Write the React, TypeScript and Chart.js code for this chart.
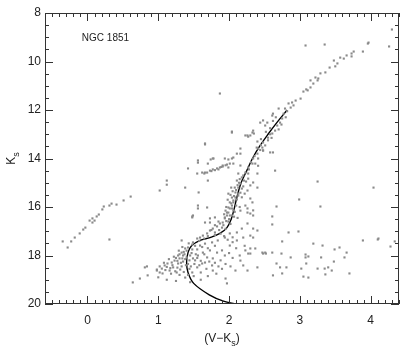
import React, { useEffect, useRef } from "react";
import { Chart, registerables } from "chart.js";

Chart.register(...registerables);

const X_MIN = -0.6;
const X_MAX = 4.4;
const Y_MIN = 8;
const Y_MAX = 20;
const xTickValues = [0, 1, 2, 3, 4];
const yTickValues = [8, 10, 12, 14, 16, 18, 20];
const xMinorStep = 0.1;
const yMinorStep = 0.5;
const clusterName = "NGC 1851";
const xTitle = ["(V−K", "s", ")"];
const yTitle = ["K", "s"];

// [V-Ks, Ks]
const upperGiantBranch: [number, number][] = [
  [3.08, 9.34], [3.35, 9.3], [4.3, 8.68], [4.26, 9.38], [3.96, 9.26], [3.97, 9.22],
  [3.89, 9.59], [3.76, 9.59], [3.73, 9.67], [3.73, 9.79], [3.66, 9.75], [3.62, 9.88],
  [3.57, 9.84], [3.53, 10.08], [3.48, 9.96], [3.5, 10.2], [3.42, 10.25], [3.36, 10.45],
  [3.29, 10.49], [3.22, 10.66], [3.26, 10.7], [3.25, 10.78], [3.15, 10.78], [3.19, 10.91],
  [3.15, 11.07], [3.09, 11.15], [3.11, 11.19], [3.05, 11.24], [3.01, 11.53], [2.94, 11.61],
  [2.89, 11.69], [2.84, 11.73], [2.91, 11.81], [2.87, 11.9], [2.79, 11.94], [2.7, 11.94],
  [2.62, 12.15], [2.61, 12.23], [2.77, 12.15], [2.75, 12.35], [2.72, 12.52], [2.68, 12.64],
  [2.54, 12.52], [2.48, 12.43], [2.44, 12.52], [2.51, 12.64], [2.65, 12.85], [2.61, 12.97],
  [2.55, 13.14], [2.34, 12.85], [2.33, 12.93], [2.35, 12.97], [2.3, 13.05], [2.26, 13.05],
  [2.04, 12.93], [2.16, 13.59], [2.48, 13.34], [2.51, 13.46], [2.47, 13.55], [2.41, 13.59],
  [1.66, 13.38], [1.87, 11.32], [2.23, 13.05], [2.27, 13.1], [2.58, 12.75], [2.52, 12.9],
  [2.45, 13.2], [2.4, 13.3], [2.62, 12.45], [2.66, 12.3], [2.58, 13.0], [2.04, 12.89],
  [2.7, 12.8], [2.74, 12.6], [2.8, 12.3], [2.82, 12.05], [2.55, 13.25], [2.6, 13.15],
  [2.45, 13.45], [2.39, 13.55],
];

const middleGiantBranch: [number, number][] = [
  [2.44, 13.65], [2.4, 13.8], [2.34, 14.0], [2.33, 14.21], [2.27, 14.37], [2.23, 14.58],
  [2.27, 14.62], [2.18, 14.78], [2.21, 14.91], [2.16, 15.03], [2.13, 15.2], [2.18, 15.24],
  [2.09, 15.4], [2.13, 15.45], [2.04, 15.61], [2.06, 15.73], [2.01, 15.81], [1.99, 16.02],
  [2.04, 16.06], [1.97, 16.23], [1.94, 16.43], [2.01, 16.35], [2.26, 15.32], [2.3, 15.11],
  [2.27, 14.83], [2.34, 14.99], [2.4, 14.62], [2.13, 14.62], [2.11, 14.91], [2.03, 15.2],
  [1.99, 15.45], [2.37, 14.21], [2.41, 14.3], [2.41, 14.0], [2.48, 13.67], [2.16, 14.29],
  [2.23, 15.94], [2.26, 16.23], [1.69, 16.02], [2.62, 13.75], [2.11, 13.8], [2.06, 13.96],
  [2.16, 15.41], [2.13, 15.53], [2.09, 15.61], [2.11, 15.69], [2.06, 15.81], [2.04, 15.94],
  [2.1, 15.94], [2.01, 16.06], [1.99, 16.23], [2.06, 16.14], [1.97, 16.35], [2.04, 16.35],
  [1.94, 16.47], [1.91, 16.64], [1.99, 16.6], [1.87, 16.68], [1.83, 16.8], [1.9, 16.85],
  [2.3, 16.27], [2.26, 16.06], [2.33, 15.81], [2.3, 15.65], [1.56, 15.94], [1.49, 16.35],
  [1.66, 16.64], [1.73, 16.64], [1.8, 16.43], [2.08, 15.2], [2.12, 15.1], [2.05, 15.35],
  [2.02, 15.5], [2.07, 15.55], [1.98, 15.7], [2.03, 15.85], [1.96, 16.0], [1.95, 16.15],
  [2.0, 16.5], [1.93, 16.3], [2.1, 15.3], [2.14, 15.0], [2.2, 14.7], [2.15, 14.85],
  [2.58, 13.75], [2.48, 13.67], [2.08, 16.2], [2.02, 16.7], [1.96, 16.58], [2.12, 16.45],
  [2.15, 16.0], [2.18, 15.6], [2.22, 15.45], [2.2, 15.15], [2.24, 14.95], [2.28, 14.45],
  [2.31, 14.15], [2.36, 13.9], [2.16, 16.15], [2.07, 16.4], [1.85, 16.6], [1.8, 16.75],
];

const horizontalBranch: [number, number][] = [
  [1.62, 14.58], [1.65, 14.62], [1.69, 14.58], [1.73, 14.5], [1.77, 14.45], [1.83, 14.41],
  [1.87, 14.37], [1.91, 14.33], [1.97, 14.25], [2.01, 14.21], [1.99, 14.37], [2.06, 14.21],
  [2.04, 14.0], [1.99, 14.04], [1.94, 14.0], [1.91, 14.29], [1.85, 14.45], [1.7, 14.21],
  [1.74, 14.04], [1.78, 14.0], [1.66, 14.58], [1.55, 14.62], [1.42, 14.41], [1.56, 14.17],
  [1.66, 13.42], [2.16, 13.8], [1.7, 14.91], [1.12, 14.91], [1.12, 15.08], [1.02, 15.32],
  [1.38, 15.2], [1.57, 15.4], [1.56, 14.08], [1.77, 14.0], [1.89, 14.35], [1.8, 14.48],
  [1.75, 14.52], [1.95, 14.28],
];

const blueSequence: [number, number][] = [
  [0.61, 15.57], [0.51, 15.73], [0.41, 15.9], [0.34, 15.86], [0.31, 15.94], [0.23, 15.98],
  [0.21, 16.1], [0.16, 16.31], [0.13, 16.39], [0.07, 16.47], [0.03, 16.56], [0.1, 16.56],
  [0.07, 16.64], [-0.03, 16.85], [-0.06, 16.93], [-0.11, 17.09], [-0.18, 17.26], [-0.23, 17.42],
  [-0.35, 17.42], [-0.28, 17.67], [0.31, 17.34], [0.74, 18.95], [0.85, 18.82], [0.84, 18.45],
  [0.98, 18.58], [1.02, 18.45], [0.64, 19.11], [0.81, 18.49],
];

const turnoffStars: [number, number][] = [
  [1.77, 16.89], [1.73, 16.97], [1.8, 17.05], [1.69, 17.09], [1.63, 17.18], [1.59, 17.26],
  [1.55, 17.3], [1.49, 17.46], [1.48, 17.55], [1.42, 17.67], [1.38, 17.71], [1.33, 17.88],
  [1.35, 18.0], [1.28, 18.0], [1.4, 18.08], [1.3, 18.12], [1.23, 18.21], [1.35, 18.25],
  [1.19, 18.29], [1.28, 18.33], [1.13, 18.33], [1.09, 18.41], [1.33, 18.45], [1.21, 18.49],
  [1.05, 18.54], [1.16, 18.62], [1.26, 18.7], [0.98, 18.62], [1.06, 18.74], [1.38, 18.91],
  [1.48, 18.7], [1.55, 18.49], [1.62, 18.33], [1.49, 18.12], [1.56, 18.0], [1.63, 17.88],
  [1.73, 17.79], [1.69, 18.08], [1.77, 18.12], [1.83, 17.88], [1.66, 18.29], [1.76, 18.41],
  [1.77, 18.62], [1.9, 17.79], [1.94, 18.0], [2.01, 17.59], [2.11, 17.38], [2.2, 17.26],
  [2.3, 17.18], [2.34, 16.89], [2.23, 17.79], [2.3, 17.92], [2.16, 18.21], [2.09, 18.62],
  [1.97, 19.15], [2.47, 17.88], [2.51, 17.88], [2.4, 18.49], [2.01, 17.09], [2.11, 17.05],
  [2.18, 16.89], [1.94, 17.26], [1.84, 17.38], [1.76, 17.46], [1.66, 17.51], [1.59, 17.59],
  [1.33, 17.38], [1.48, 16.39], [2.26, 16.68], [2.34, 16.35], [2.4, 16.97], [2.34, 17.26],
  [2.3, 17.71], [2.37, 17.71], [2.27, 17.92], [2.2, 18.41], [2.26, 18.62], [1.3, 17.95],
  [1.38, 18.15], [1.25, 18.1], [1.32, 18.3], [1.42, 18.35], [1.45, 18.0], [1.36, 17.85],
  [1.2, 18.4], [1.27, 18.5], [1.44, 18.55], [1.52, 18.2], [1.58, 18.4], [1.4, 17.8],
  [1.47, 17.9], [1.15, 18.15], [1.1, 18.6], [1.18, 18.75], [1.3, 18.8], [1.5, 18.85],
  [1.6, 18.7], [1.68, 18.55], [1.85, 18.45], [1.88, 18.2], [1.95, 18.35], [2.0, 17.9],
  [2.05, 18.1], [1.7, 17.7], [1.8, 17.6], [1.55, 17.75], [1.62, 17.65], [2.1, 17.7],
  [1.0, 18.9], [1.12, 19.0], [1.25, 19.05], [1.45, 19.1], [1.6, 19.0], [1.86, 16.95],
  [1.92, 16.75], [1.8, 17.15], [1.7, 17.2], [1.95, 16.9], [1.88, 17.1], [1.75, 16.95],
  [1.65, 17.3], [1.58, 17.4], [1.52, 17.6], [1.22, 18.05], [1.27, 18.22], [1.34, 18.12],
  [1.39, 18.4], [1.31, 18.58], [1.24, 18.65], [1.17, 18.52], [1.12, 18.47], [1.08, 18.3],
  [1.02, 18.7], [1.36, 18.68], [1.42, 18.8], [1.46, 18.45], [1.51, 18.35], [1.55, 18.1],
  [1.6, 18.22], [1.44, 18.2], [1.37, 17.95], [1.29, 17.8], [1.34, 17.65], [1.43, 17.5],
  [1.48, 17.75], [1.53, 17.95], [1.65, 17.95], [1.72, 18.25], [1.8, 18.3], [1.9, 18.55],
  [2.02, 18.45], [1.7, 18.85], [1.82, 18.75], [1.95, 18.95], [2.15, 18.0], [2.22, 17.6],
  [2.05, 17.45], [1.98, 17.35], [1.93, 17.2], [2.05, 17.25],
];

const fieldStars: [number, number][] = [
  [2.65, 14.5], [3.25, 14.95], [4.04, 15.2], [2.4, 15.2], [2.99, 15.69], [3.29, 15.98],
  [2.67, 15.98], [2.61, 16.39], [2.61, 16.72], [2.84, 17.05], [2.98, 17.01], [2.75, 17.42],
  [3.19, 17.51], [3.32, 17.59], [3.89, 17.38], [4.1, 17.34], [4.28, 17.63], [4.34, 17.42],
  [3.49, 17.75], [3.56, 17.67], [3.66, 17.88], [3.63, 18.08], [2.61, 17.88], [2.74, 17.92],
  [2.48, 17.92], [2.52, 17.92], [2.87, 18.08], [3.08, 17.96], [3.12, 18.04], [3.08, 18.08],
  [3.3, 18.08], [3.48, 18.25], [2.67, 18.33], [3.09, 18.33], [2.72, 18.49], [2.81, 18.49],
  [3.02, 18.54], [3.25, 18.54], [3.35, 18.54], [3.4, 18.49], [3.45, 18.62], [2.62, 18.82],
  [2.75, 18.74], [3.05, 18.87], [3.12, 18.91], [3.36, 18.78], [3.7, 18.74], [1.56, 16.06],
  [1.48, 16.43], [1.73, 16.47], [2.34, 16.14], [4.11, 17.3],
];

const isochroneVK = [
  2.82, 2.68, 2.55, 2.43, 2.33, 2.25, 2.17, 2.11, 2.07, 2.03, 1.97, 1.87,
  1.73, 1.59, 1.47, 1.42, 1.4, 1.42, 1.5, 1.72, 1.92, 2.1,
];
const isochroneKs = [
  12.0, 12.5, 13.0, 13.5, 14.0, 14.5, 15.0, 15.6, 16.1, 16.5, 16.85, 17.09,
  17.26, 17.38, 17.6, 17.88, 18.29, 18.7, 19.15, 19.62, 19.88, 20.0,
];

const FONT = "'Liberation Sans', Arial, Helvetica, sans-serif";
const INK = "#222";

function drawParts(
  ctx: CanvasRenderingContext2D,
  parts: string[],
  cx: number,
  cy: number,
  size: number
) {
  const subSize = Math.round(size * 0.72);
  const widths = parts.map((p, i) => {
    ctx.font = `${i % 2 === 1 ? subSize : size}px ${FONT}`;
    return ctx.measureText(p).width;
  });
  const total = widths.reduce((a, b) => a + b, 0);
  let x = cx - total / 2;
  ctx.textBaseline = "alphabetic";
  ctx.textAlign = "left";
  parts.forEach((p, i) => {
    const sub = i % 2 === 1;
    ctx.font = `${sub ? subSize : size}px ${FONT}`;
    ctx.fillText(p, x, cy + (sub ? size * 0.3 : 0));
    x += widths[i];
  });
}

const framePlugin = {
  id: "idlFrame",
  afterDraw(chart: any) {
    const { ctx, chartArea, scales } = chart;
    const { left, right, top, bottom } = chartArea;
    const xs = scales.x;
    const ys = scales.y;
    ctx.save();
    ctx.strokeStyle = "#333";
    ctx.lineWidth = 1;
    ctx.strokeRect(left + 0.5, top + 0.5, right - left - 1, bottom - top - 1);
    ctx.beginPath();
    const nx0 = Math.ceil(X_MIN / xMinorStep - 1e-6);
    const nx1 = Math.floor(X_MAX / xMinorStep + 1e-6);
    for (let i = nx0; i <= nx1; i++) {
      const v = i * xMinorStep;
      const major = xTickValues.some((t) => Math.abs(t - v) < 1e-6);
      const px = Math.round(xs.getPixelForValue(v)) + 0.5;
      const len = major ? 8 : 4;
      ctx.moveTo(px, bottom);
      ctx.lineTo(px, bottom - len);
      ctx.moveTo(px, top);
      ctx.lineTo(px, top + len);
    }
    const ny0 = Math.ceil(Y_MIN / yMinorStep - 1e-6);
    const ny1 = Math.floor(Y_MAX / yMinorStep + 1e-6);
    for (let i = ny0; i <= ny1; i++) {
      const v = i * yMinorStep;
      const major = yTickValues.some((t) => Math.abs(t - v) < 1e-6);
      const py = Math.round(ys.getPixelForValue(v)) + 0.5;
      const len = major ? 8 : 4;
      ctx.moveTo(left, py);
      ctx.lineTo(left + len, py);
      ctx.moveTo(right, py);
      ctx.lineTo(right - len, py);
    }
    ctx.stroke();

    ctx.fillStyle = INK;
    ctx.font = `10px ${FONT}`;
    ctx.textAlign = "left";
    ctx.textBaseline = "alphabetic";
    ctx.fillText(clusterName, xs.getPixelForValue(-0.08), ys.getPixelForValue(9.17));
    drawParts(ctx, xTitle, (left + right) / 2, 342, 12);
    ctx.save();
    ctx.translate(15, (top + bottom) / 2);
    ctx.rotate(-Math.PI / 2);
    drawParts(ctx, yTitle, 0, 0, 12);
    ctx.restore();
    ctx.restore();
  },
};

const toPoints = (arr: [number, number][]) => arr.map(([x, y]) => ({ x, y }));

export default function App() {
  const ref = useRef<HTMLCanvasElement>(null);
  useEffect(() => {
    document.body.style.margin = "0";
    const stars = [
      ...upperGiantBranch,
      ...middleGiantBranch,
      ...horizontalBranch,
      ...blueSequence,
      ...turnoffStars,
      ...fieldStars,
    ];
    const chart = new Chart(ref.current as HTMLCanvasElement, {
      type: "scatter",
      data: {
        datasets: [
          {
            label: "stars",
            data: toPoints(stars),
            pointStyle: "rect",
            pointRadius: 1.5,
            backgroundColor: "#8a8a8a",
            borderWidth: 0,
            showLine: false,
          },
          {
            label: "isochrone",
            data: isochroneVK.map((x, i) => ({ x, y: isochroneKs[i] })),
            showLine: true,
            borderColor: "#000",
            borderWidth: 1.4,
            pointRadius: 0,
            tension: 0.35,
            fill: false,
          },
        ],
      },
      options: {
        animation: false,
        responsive: false,
        devicePixelRatio: 1,
        layout: { padding: { top: 13, right: 8, left: 0, bottom: 0 } },
        plugins: { legend: { display: false }, tooltip: { enabled: false } },
        scales: {
          x: {
            type: "linear",
            min: X_MIN,
            max: X_MAX,
            grid: { display: false, drawTicks: false },
            border: { display: false },
            ticks: { padding: 9, color: INK, font: { family: FONT, size: 12 } },
            afterBuildTicks: (s: any) => {
              s.ticks = xTickValues.map((v) => ({ value: v }));
            },
            afterFit: (s: any) => {
              s.height = 45;
            },
          },
          y: {
            type: "linear",
            reverse: true,
            min: Y_MIN,
            max: Y_MAX,
            grid: { display: false, drawTicks: false },
            border: { display: false },
            ticks: { padding: 4, color: INK, font: { family: FONT, size: 12 } },
            afterBuildTicks: (s: any) => {
              s.ticks = yTickValues.map((v) => ({ value: v }));
            },
            afterFit: (s: any) => {
              s.width = 45;
            },
          },
        },
      },
      plugins: [framePlugin],
    } as any);
    return () => chart.destroy();
  }, []);
  return (
    <div style={{ width: 407, height: 349 }}>
      <canvas ref={ref} width={407} height={349} />
    </div>
  );
}
